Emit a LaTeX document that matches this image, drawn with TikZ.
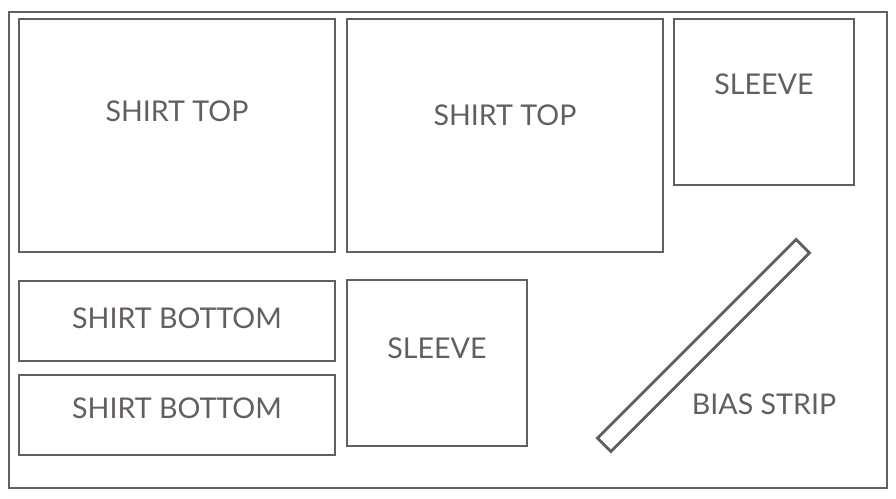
\documentclass[tikz,border=0pt]{standalone}
\usepackage{fontspec}
\setmainfont{Lato}
\definecolor{cloth}{RGB}{100,94,93}
\tikzset{
  piece/.style={draw=cloth, line width=2.8pt},
  piecename/.style={text=cloth, anchor=base, inner sep=0pt, font=\fontsize{28.6}{30}\selectfont}
}
\begin{document}
\begin{tikzpicture}[x=1pt,y=-1pt]
\useasboundingbox (0,0) rectangle (896,498);

% Fabric outline
\draw[piece] (9,12) rectangle (887,488);

% Pattern pieces
\draw[piece] (19,19) rectangle (335,252);
\draw[piece] (347,19) rectangle (663,252);
\draw[piece] (674,19) rectangle (854,185);
\draw[piece] (19,281) rectangle (335,361);
\draw[piece] (19,375) rectangle (335,455);
\draw[piece] (347,280) rectangle (527,446);

% Bias strip, cut at 45 degrees
\draw[piece, rotate around={45:(703.5,345.5)}] (563,336) rectangle (844,355);

% Labels
\node[piecename] (topone) at (177,121) {SHIRT TOP};
\node[piecename] (toptwo) at (505,125) {SHIRT TOP};
\node[piecename] (sleeveone) at (764,94) {SLEEVE};
\node[piecename] (bottomone) at (177,328) {SHIRT BOTTOM};
\node[piecename] (bottomtwo) at (177,418) {SHIRT BOTTOM};
\node[piecename] (sleevetwo) at (437,358) {SLEEVE};
\node[piecename] (bias) at (764,414) {BIAS STRIP};

\end{tikzpicture}
\end{document}
